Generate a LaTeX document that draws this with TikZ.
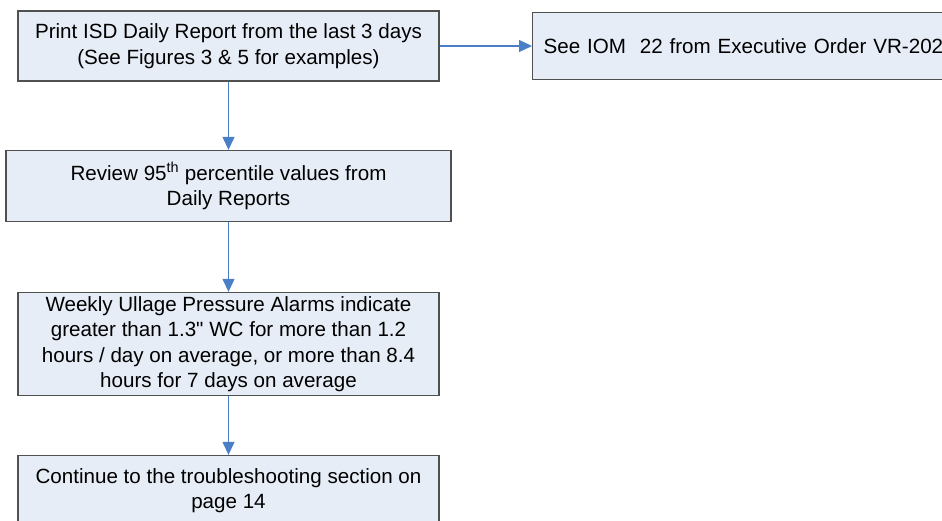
\documentclass[tikz,border=0pt]{standalone}
\usepackage{fontspec}
\setmainfont{Liberation Sans}
\usetikzlibrary{arrows.meta}
\definecolor{boxfill}{HTML}{E7EDF7}
\definecolor{boxline}{HTML}{505050}
\definecolor{arrowblue}{HTML}{4A7EC7}
\begin{document}
\begin{tikzpicture}[x=1pt,y=-1pt,
  box/.style={draw=boxline, fill=boxfill, line width=1.3pt, inner sep=0pt, align=center,
    font=\fontsize{20.6}{25.5}\selectfont},
  conn/.style={draw=arrowblue, line width=1.1pt, -{Triangle[width=12pt,length=13pt]}}]
\useasboundingbox (0,0) rectangle (942,521);
\clip (0,0) rectangle (942,521);
\node[box, minimum width=421pt, minimum height=70pt] (print) at (228.5,46) {Print ISD Daily Report from the last 3 days\\(See Figures 3 \& 5 for examples)};
\node[box, minimum width=445pt, minimum height=71pt] (review) at (228.5,186) {Review 95\textsuperscript{th} percentile values from\\Daily Reports};
\node[box, minimum width=421pt, minimum height=103pt] (weekly) at (228.5,344) {Weekly Ullage Pressure Alarms indicate\\greater than 1.3\textquotedbl{} WC for more than 1.2\\hours / day on average, or more than 8.4\\hours for 7 days on average};
\node[box, minimum width=421pt, minimum height=70pt] (cont) at (228.5,490.5) {Continue to the troubleshooting section on\\page 14};
\node[box, minimum width=421pt, minimum height=67pt, anchor=west, align=left, text width=412pt] (iom) at (532,46) {\hspace*{6.5pt}\mbox{See IOM\ \ 22 from Executive Order VR-202}};
\draw[conn] (print) -- (review);
\draw[conn] (review) -- (weekly);
\draw[conn] (weekly) -- (cont);
\draw[conn] (print.east) -- (iom.west);
\end{tikzpicture}
\end{document}
